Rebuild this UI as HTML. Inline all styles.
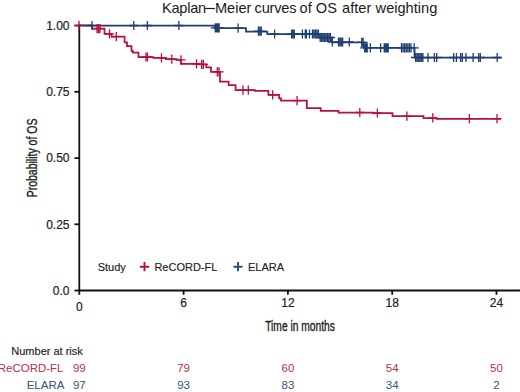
<!DOCTYPE html>
<html><head><meta charset="utf-8"><style>
html,body{margin:0;padding:0;background:#fff;}
svg{display:block;font-family:"Liberation Sans",sans-serif;}
</style></head><body>
<svg width="520" height="392" viewBox="0 0 520 392">
<rect width="520" height="392" fill="#fff"/>
<g font-size="14.6" fill="#1a1a1a"><text x="162" y="13" letter-spacing="-0.25">Kaplan</text><rect x="205.1" y="7.9" width="9.8" height="1.2"/><text x="214.9" y="13">Meier</text><text x="254.6" y="13" letter-spacing="-0.2">curves</text><text x="299.6" y="13">of</text><text x="315.8" y="13">OS</text><text x="342.1" y="13">after</text><text x="375.6" y="13">weighting</text></g>
<g stroke="#111" stroke-width="1.8" fill="none">
<path d="M79.3,24.5 V290.5 H520"/>
<path d="M74.4,290.5 H79.3"/><path d="M74.4,224.3 H79.3"/><path d="M74.4,158.1 H79.3"/><path d="M74.4,91.8 H79.3"/><path d="M74.4,25.6 H79.3"/><path d="M79.3,290.5 V294.8"/><path d="M183.6,290.5 V294.8"/><path d="M287.9,290.5 V294.8"/><path d="M392.2,290.5 V294.8"/><path d="M496.5,290.5 V294.8"/>
</g>
<g font-size="12" fill="#222" stroke="#222" stroke-width="0.2"><text x="69.5" y="294.8" text-anchor="end">0.0</text><text x="69.5" y="228.6" text-anchor="end">0.25</text><text x="69.5" y="162.4" text-anchor="end">0.50</text><text x="69.5" y="96.1" text-anchor="end">0.75</text><text x="69.5" y="29.9" text-anchor="end">1.00</text><text x="79.3" y="310.7" text-anchor="middle">0</text><text x="183.6" y="307" text-anchor="middle">6</text><text x="287.9" y="307" text-anchor="middle">12</text><text x="392.2" y="307" text-anchor="middle">18</text><text x="496.5" y="307" text-anchor="middle">24</text></g>
<g fill="none" stroke-linejoin="miter">
<path d="M79,25.4 H92 V28.6 H104.5 V33.8 H111.5 V36.7 H124.6 V42.3 H127 V46 H131.5 V51 H133 V52.7 H138.5 V57 H153.4 V57.8 H166 V59.2 H176.3 V59.8 H181 V63.8 H199 V64.4 H206.3 V67.3 H211 V71.9 H220 V81.5 H228.7 V85 H235.6 V90.2 H255 V90.8 H268.4 V94.8 H279.2 V98.3 H281 V100.6 H306.9 V108.1 H320.7 V110.8 H338.5 V112.5 H373 V113 H392.5 V116.1 H423.5 V118.1 H436.7 V118.8 H501" stroke="#b81038" stroke-width="1.75"/>
<path d="M79,25.5 H214.6 V28.2 H246 V31.5 H267.3 V34.2 H318.8 V37.5 H332 V42.3 H363.8 V47.9 H414.6 V57.5 H501.5" stroke="#1e3d72" stroke-width="1.75"/>
<path d="M74.4,25.4 h9.2 M79,20.8 v9.2 M92.4,28.6 h9.2 M97,24.0 v9.2 M93.9,28.6 h9.2 M98.5,24.0 v9.2 M95.4,28.6 h9.2 M100,24.0 v9.2 M104.9,33.8 h9.2 M109.5,29.2 v9.2 M111.7,36.7 h9.2 M116.3,32.1 v9.2 M141.4,57 h9.2 M146,52.4 v9.2 M142.9,57 h9.2 M147.5,52.4 v9.2 M156.9,57.8 h9.2 M161.5,53.2 v9.2 M167.2,59.2 h9.2 M171.8,54.6 v9.2 M176.4,59.8 h9.2 M181,55.2 v9.2 M191.9,63.8 h9.2 M196.5,59.2 v9.2 M197.1,64.4 h9.2 M201.7,59.8 v9.2 M198.8,64.4 h9.2 M203.4,59.8 v9.2 M212.7,71.9 h9.2 M217.3,67.3 v9.2 M214.4,71.9 h9.2 M219,67.3 v9.2 M238.4,90.2 h9.2 M243,85.6 v9.2 M243.7,90.2 h9.2 M248.3,85.6 v9.2 M268.1,94.8 h9.2 M272.7,90.2 v9.2 M292.5,100.6 h9.2 M297.1,96.0 v9.2 M355.2,112.5 h9.2 M359.8,107.9 v9.2 M372.8,113 h9.2 M377.4,108.4 v9.2 M402.3,116.1 h9.2 M406.9,111.5 v9.2 M428.2,117.9 h9.2 M432.8,113.3 v9.2 M464.8,118.6 h9.2 M469.4,114.0 v9.2 M492.4,118.6 h9.2 M497,114.0 v9.2" stroke="#b81038" stroke-width="1.3"/>
<path d="M87.4,25.5 h9.2 M92,20.9 v9.2 M129.2,25.5 h9.2 M133.8,20.9 v9.2 M142.8,25.5 h9.2 M147.4,20.9 v9.2 M174.3,25.5 h9.2 M178.9,20.9 v9.2 M210.7,27.8 h9.2 M215.3,23.2 v9.2 M212.0,27.8 h9.2 M216.56666666666666,23.2 v9.2 M213.2,27.8 h9.2 M217.83333333333334,23.2 v9.2 M214.5,27.8 h9.2 M219.1,23.2 v9.2 M233.5,28.2 h9.2 M238.1,23.6 v9.2 M253.8,31.2 h9.2 M258.4,26.6 v9.2 M255.3,31.2 h9.2 M259.85,26.6 v9.2 M256.7,31.2 h9.2 M261.3,26.6 v9.2 M270.0,34.0 h9.2 M274.6,29.4 v9.2 M287.0,34.0 h9.2 M291.6,29.4 v9.2 M288.4,34.0 h9.2 M292.95000000000005,29.4 v9.2 M289.7,34.0 h9.2 M294.3,29.4 v9.2 M297.8,34.0 h9.2 M302.4,29.4 v9.2 M300.7,34.0 h9.2 M305.3,29.4 v9.2 M301.8,34.0 h9.2 M306.4,29.4 v9.2 M304.9,34.0 h9.2 M309.5,29.4 v9.2 M307.9,34.0 h9.2 M312.5,29.4 v9.2 M309.4,34.0 h9.2 M313.975,29.4 v9.2 M310.8,34.0 h9.2 M315.45,29.4 v9.2 M312.3,34.0 h9.2 M316.92499999999995,29.4 v9.2 M313.8,34.0 h9.2 M318.4,29.4 v9.2 M315.6,37.5 h9.2 M320.2,32.9 v9.2 M317.1,37.5 h9.2 M321.65714285714284,32.9 v9.2 M318.5,37.5 h9.2 M323.1142857142857,32.9 v9.2 M320.0,37.5 h9.2 M324.57142857142856,32.9 v9.2 M321.4,37.5 h9.2 M326.0285714285714,32.9 v9.2 M322.9,37.5 h9.2 M327.48571428571427,32.9 v9.2 M324.3,37.5 h9.2 M328.9428571428571,32.9 v9.2 M325.8,37.5 h9.2 M330.4,32.9 v9.2 M327.7,42.0 h9.2 M332.3,37.4 v9.2 M333.9,42.0 h9.2 M338.5,37.4 v9.2 M335.3,42.0 h9.2 M339.9,37.4 v9.2 M336.7,42.0 h9.2 M341.3,37.4 v9.2 M338.1,42.0 h9.2 M342.7,37.4 v9.2 M344.7,42.0 h9.2 M349.3,37.4 v9.2 M357.1,42.3 h9.2 M361.7,37.7 v9.2 M358.5,42.3 h9.2 M363.1,37.7 v9.2 M360.1,47.9 h9.2 M364.7,43.3 v9.2 M361.3,47.9 h9.2 M365.95,43.3 v9.2 M362.6,47.9 h9.2 M367.2,43.3 v9.2 M365.7,47.9 h9.2 M370.3,43.3 v9.2 M376.1,47.9 h9.2 M380.7,43.3 v9.2 M379.6,47.9 h9.2 M384.2,43.3 v9.2 M380.9,47.9 h9.2 M385.5333333333333,43.3 v9.2 M382.3,47.9 h9.2 M386.8666666666667,43.3 v9.2 M383.6,47.9 h9.2 M388.2,43.3 v9.2 M396.9,47.9 h9.2 M401.5,43.3 v9.2 M398.5,47.9 h9.2 M403.0833333333333,43.3 v9.2 M400.1,47.9 h9.2 M404.6666666666667,43.3 v9.2 M401.6,47.9 h9.2 M406.25,43.3 v9.2 M403.2,47.9 h9.2 M407.8333333333333,43.3 v9.2 M404.8,47.9 h9.2 M409.4166666666667,43.3 v9.2 M406.4,47.9 h9.2 M411.0,43.3 v9.2 M409.6,47.9 h9.2 M414.2,43.3 v9.2 M411.0,57.5 h9.2 M415.6,52.9 v9.2 M412.5,57.5 h9.2 M417.06,52.9 v9.2 M413.9,57.5 h9.2 M418.52,52.9 v9.2 M415.4,57.5 h9.2 M419.98,52.9 v9.2 M416.8,57.5 h9.2 M421.44,52.9 v9.2 M418.3,57.5 h9.2 M422.9,52.9 v9.2 M423.4,57.5 h9.2 M428.0,52.9 v9.2 M429.8,57.5 h9.2 M434.4,52.9 v9.2 M432.1,57.5 h9.2 M436.7,52.9 v9.2 M449.0,57.5 h9.2 M453.6,52.9 v9.2 M451.8,57.5 h9.2 M456.4,52.9 v9.2 M456.0,57.5 h9.2 M460.6,52.9 v9.2 M457.7,57.5 h9.2 M462.3,52.9 v9.2 M461.4,57.5 h9.2 M466.0,52.9 v9.2 M468.5,57.5 h9.2 M473.1,52.9 v9.2 M474.0,57.5 h9.2 M478.6,52.9 v9.2 M475.7,57.5 h9.2 M480.3,52.9 v9.2 M492.6,57.5 h9.2 M497.2,52.9 v9.2" stroke="#1e3d72" stroke-width="1.3"/>
</g>
<text transform="translate(36.5,197.3) rotate(-90) scale(0.75,1)" font-size="14" fill="#222" stroke="#222" stroke-width="0.35">Probability of OS</text>
<text transform="translate(265.2,331.1) scale(0.733,1)" font-size="14" fill="#222" stroke="#222" stroke-width="0.35">Time in months</text>
<g font-size="11" fill="#222" stroke="#222" stroke-width="0.15">
<text x="97.7" y="270.9">Study</text>
<text x="154.4" y="270.9">ReCORD-FL</text>
<text x="248" y="270.9">ELARA</text>
<text x="11.3" y="354.7">Number at risk</text>
</g>
<path d="M139.9,266.7 h9.2 M144.5,262.1 v9.2" stroke="#b8103c" stroke-width="1.9"/>
<path d="M233.4,266.7 h9.2 M238,262.1 v9.2" stroke="#24508a" stroke-width="1.9"/>
<g font-size="11.5">
<text x="63.5" y="371.5" text-anchor="end" fill="#b8304a">ReCORD-FL</text>
<text x="64.4" y="388.5" text-anchor="end" fill="#2f5582">ELARA</text>
<g fill="#b8304a"><text x="79.3" y="371.5" text-anchor="middle">99</text><text x="183.6" y="371.5" text-anchor="middle">79</text><text x="287.9" y="371.5" text-anchor="middle">60</text><text x="392.2" y="371.5" text-anchor="middle">54</text><text x="496.5" y="371.5" text-anchor="middle">50</text></g>
<g fill="#2f5582"><text x="79.3" y="388.5" text-anchor="middle">97</text><text x="183.6" y="388.5" text-anchor="middle">93</text><text x="287.9" y="388.5" text-anchor="middle">83</text><text x="392.2" y="388.5" text-anchor="middle">34</text><text x="496.5" y="388.5" text-anchor="middle">2</text></g>
</g>
</svg>
</body></html>
